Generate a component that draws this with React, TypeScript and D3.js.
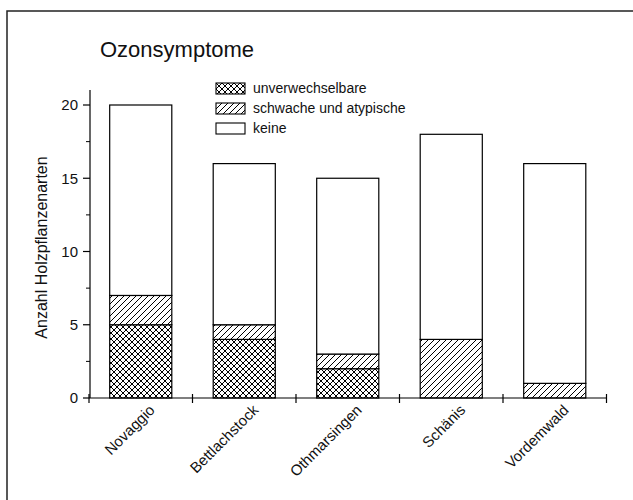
import React from "react";
import * as d3 from "d3";

const categories = ["Novaggio", "Bettlachstock", "Othmarsingen", "Schänis", "Vordemwald"];
const unverwechselbare = [5, 4, 2, 0, 0];
const schwache = [2, 1, 1, 4, 1];
const keine = [13, 11, 12, 14, 15];
const seriesNames = ["unverwechselbare", "schwache und atypische", "keine"];
const yTicks = [0, 5, 10, 15, 20];
const yMinorTicks = [2.5, 7.5, 12.5, 17.5];
const title = "Ozonsymptome";
const yTitle = "Anzahl Holzpflanzenarten";

const W = 633;
const H = 500;
const FONT = "'Liberation Sans', Arial, sans-serif";

export default function App() {
  const x = d3.scaleBand<string>().domain(categories).range([89, 606.5]).paddingInner(0.4).paddingOuter(0.2);
  const y = d3.scaleLinear().domain([0, 20]).range([398, 105]);
  const fills = ["url(#cross)", "url(#diag)", "#fff"];
  const rows = categories.map((c, i) => ({ cat: c, vals: [unverwechselbare[i], schwache[i], keine[i]] }));
  const step = x.step();
  const boundaries = d3.range(categories.length + 1).map((i) => 89 + i * step);

  return (
    <svg width={W} height={H} style={{ position: "absolute", left: 0, top: 0, background: "#fff" }} fontFamily={FONT}>
      <defs>
        <pattern id="diag" patternUnits="userSpaceOnUse" width={6} height={6}>
          <rect width={6} height={6} fill="#fff" />
          <path d="M-1,1 l2,-2 M0,6 l6,-6 M5,7 l2,-2" stroke="#000" strokeWidth={1} />
        </pattern>
        <pattern id="cross" patternUnits="userSpaceOnUse" width={6} height={6}>
          <rect width={6} height={6} fill="#fff" />
          <path d="M-1,1 l2,-2 M0,6 l6,-6 M5,7 l2,-2 M-1,5 l2,2 M0,0 l6,6 M5,-1 l2,2" stroke="#000" strokeWidth={1} />
        </pattern>
      </defs>
      <rect x={0} y={0} width={W} height={H} fill="#fff" />
      {/* frame */}
      <path d={`M7,${H} V11 H${W}`} fill="none" stroke="#222" strokeWidth={1.5} />

      <text x={100} y={57} fontSize={22} fill="#111">{title}</text>

      {/* bars */}
      {rows.map((r) => {
        let acc = 0;
        return (
          <g key={r.cat}>
            {r.vals.map((v, k) => {
              const y0 = acc;
              acc += v;
              if (v === 0) return null;
              return (
                <rect
                  key={k}
                  x={x(r.cat)!}
                  y={y(acc)}
                  width={x.bandwidth()}
                  height={y(y0) - y(acc)}
                  fill={fills[k]}
                  stroke="#000"
                  strokeWidth={1.2}
                />
              );
            })}
          </g>
        );
      })}

      {/* y axis */}
      <line x1={90} x2={90} y1={90} y2={398} stroke="#000" strokeWidth={1.2} />
      {yTicks.map((t) => (
        <g key={t}>
          <line x1={83} x2={90} y1={y(t)} y2={y(t)} stroke="#000" strokeWidth={1.2} />
          <text x={78} y={y(t)} dy="0.35em" textAnchor="end" fontSize={15} fill="#111">{t}</text>
        </g>
      ))}
      {yMinorTicks.map((t) => (
        <line key={t} x1={86} x2={90} y1={y(t)} y2={y(t)} stroke="#000" strokeWidth={1} />
      ))}
      <text transform={`translate(47,${(y(0) + y(20)) / 2 - 4}) rotate(-90)`} textAnchor="middle" fontSize={16} fill="#111">
        {yTitle}
      </text>

      {/* x axis */}
      <line x1={90} x2={607} y1={398} y2={398} stroke="#000" strokeWidth={1.2} />
      {boundaries.map((b, i) => (
        <line key={i} x1={b} x2={b} y1={394} y2={403} stroke="#000" strokeWidth={1.2} />
      ))}
      {categories.map((c) => (
        <text
          key={c}
          transform={`translate(${x(c)! + x.bandwidth() / 2 + 15},411) rotate(-45)`}
          textAnchor="end"
          fontSize={15}
          fill="#111"
        >
          {c}
        </text>
      ))}

      {/* legend */}
      {seriesNames.map((s, k) => (
        <g key={s} transform={`translate(216,${83 + k * 20})`}>
          <rect x={0} y={0} width={29} height={11} fill={fills[k]} stroke="#000" strokeWidth={1.1} />
          <text x={37} y={5.5} dy="0.35em" fontSize={14} fill="#111">{s}</text>
        </g>
      ))}
    </svg>
  );
}
